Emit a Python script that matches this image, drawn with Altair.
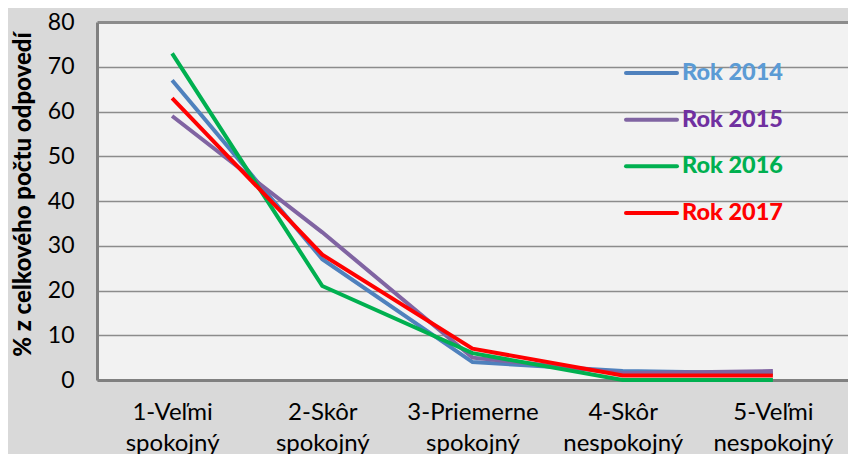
import altair as alt
import pandas as pd

categories = ["1-Veľmi spokojný", "2-Skôr spokojný", "3-Priemerne spokojný",
              "4-Skôr nespokojný", "5-Veľmi nespokojný"]
years = ["Rok 2014", "Rok 2015", "Rok 2016", "Rok 2017"]
v2014 = [67, 27, 4, 2, 1.5]
v2015 = [59, 33, 5, 1.5, 2]
v2016 = [73, 21, 6, 0, 0]
v2017 = [63, 28, 7, 1, 1]
line_colors = ["#4F81BD", "#8064A2", "#00B050", "#FF0000"]
text_colors = ["#5B9BD5", "#7030A0", "#00B050", "#FF0000"]
widths = [4, 4, 3, 4.5]
y_ticks = [0, 10, 20, 30, 40, 50, 60, 70, 80]

rows = []
for yr, vals in zip(years, [v2014, v2015, v2016, v2017]):
    for c, v in zip(categories, vals):
        rows.append({"cat": c, "year": yr, "val": v})
df = pd.DataFrame(rows)
leg = pd.DataFrame({"year": years, "tc": text_colors})

FONT = "Lato"
color_scale = alt.Scale(domain=years, range=line_colors)
size_scale = alt.Scale(domain=years, range=widths)

lines = alt.Chart(df).mark_line().encode(
    x=alt.X("cat:N", sort=categories, title=None,
            scale=alt.Scale(type="point", padding=0.5),
            axis=alt.Axis(labelExpr="split(datum.label, ' ')", labelAngle=0,
                          labelFont=FONT, labelFontSize=24, labelColor="#000000",
                          labelLineHeight=31, labelPadding=20, ticks=False,
                          domainColor="#808080", domainWidth=3, grid=False,
                          labelBaseline="top")),
    y=alt.Y("val:Q", title="% z celkového počtu odpovedí",
            scale=alt.Scale(domain=[0, 80], nice=False),
            axis=alt.Axis(values=y_ticks, ticks=False, labelFont=FONT, labelFontSize=23,
                          labelColor="#000000", labelPadding=23,
                          domainColor="#808080", domainWidth=3,
                          gridColor="#8C8C8C",
                          gridWidth={"condition": {"test": "datum.value === 80", "value": 3},
                                     "value": 1.5},
                          titleFont=FONT, titleFontSize=24, titleFontWeight=900,
                          titleColor="#000000", titlePadding=12, titleY=172)),
    color=alt.Color("year:N", scale=color_scale, legend=None),
    size=alt.Size("year:N", scale=size_scale, legend=None),
    order=alt.Order("year:N"),
)

leg_rules = alt.Chart(leg).mark_rule(strokeCap="round").encode(
    x=alt.value(529), x2=alt.value(580),
    y=alt.Y("year:N", sort=years, scale=alt.Scale(type="point", range=[51, 191], padding=0), axis=None),
    color=alt.Color("year:N", scale=color_scale, legend=None),
    size=alt.Size("year:N", scale=size_scale, legend=None),
)
leg_text = alt.Chart(leg).mark_text(align="left", baseline="middle", font=FONT,
                                    fontSize=23.5, fontWeight=900).encode(
    x=alt.value(585),
    y=alt.Y("year:N", sort=years, scale=alt.Scale(type="point", range=[51, 191], padding=0), axis=None),
    text="year:N",
    color=alt.Color("tc:N", scale=None),
)

legend_layer = alt.layer(leg_rules, leg_text)

chart = alt.layer(lines, legend_layer).resolve_scale(y="independent").properties(
    width=751, height=358,
    background="#D9D9D9",
    padding={"left": 89, "top": 14, "right": 0, "bottom": 74},
    autosize=alt.AutoSizeParams(type="none"),
).configure_view(fill="#F2F2F2", stroke=None)

chart.save("out.html", embed_options={"renderer": "svg", "actions": False})
